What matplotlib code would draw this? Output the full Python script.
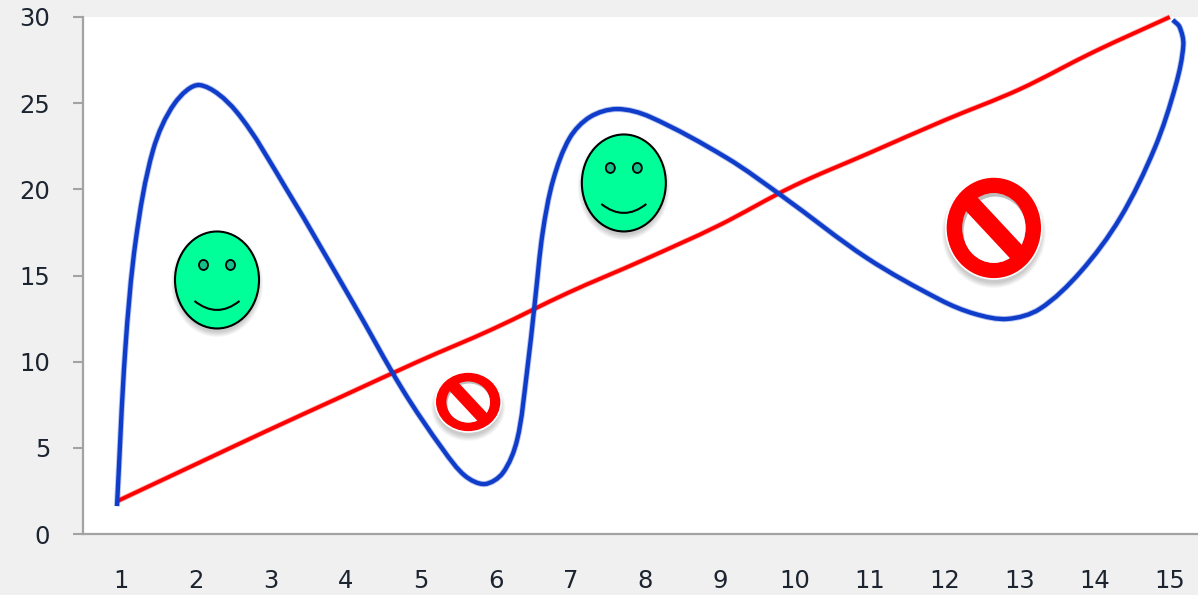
import numpy as np
import matplotlib
matplotlib.use('Agg')
import matplotlib.pyplot as plt
import matplotlib.patheffects as pe
from matplotlib.patches import Ellipse, PathPatch, Rectangle
from matplotlib.path import Path
from matplotlib.transforms import Affine2D

categories = list(range(1, 16))
red_values = [1.9, 3.95, 6.0, 8.0, 10.0, 11.9, 14.0, 15.9, 17.9, 20.2, 22.1, 24.0, 25.8, 28.0, 30.0]

# the blue curve doubles back at the end, so it is kept as x and y pairs
blue_x = [1.00, 1.11, 1.25, 1.48, 1.77, 2.10, 2.58, 3.26, 4.14, 4.80, 5.34, 5.63, 5.89, 6.13, 6.32,
          6.45, 6.56, 6.66, 6.80, 7.02, 7.29, 7.65, 8.09, 9.11, 9.86, 10.97, 11.95, 12.41, 12.84,
          13.27, 13.81, 14.34, 14.80, 15.08, 15.18, 15.13, 15.04]
blue_y = [1.62, 10.68, 17.06, 22.28, 25.01, 26.05, 24.55, 19.96, 13.40, 8.36, 4.87, 3.37, 2.90, 3.54, 5.45,
          9.34, 13.58, 17.47, 20.54, 22.98, 24.20, 24.66, 24.20, 21.82, 19.56, 16.02, 13.58, 12.77, 12.48,
          13.06, 15.20, 18.34, 22.40, 26.06, 28.38, 29.42, 29.83]

smiley_x = [2.33, 7.74]
smiley_y = [14.74, 20.37]
sign_x = [5.67, 12.66]
sign_y = [7.66, 17.76]
sign_rx = [33, 48]
sign_ry = [30, 51]

BG = '#f0f0f0'
AXIS = '#a3a3a3'
BLUE = '#0f3cc8'
RED = '#ff0000'
GREEN = '#00ff99'
TEXT = '#1c2430'

plt.rcParams['font.family'] = ['DejaVu Sans']

fig = plt.figure(figsize=(11.98, 5.95), dpi=100, facecolor=BG)
ax = fig.add_axes([83 / 1198, 61 / 595, 1115 / 1198, 517 / 595])
ax.set_xlim(0.548, 15.375)
ax.set_ylim(0, 30)


def smooth_path(x, y):
    # catmull-rom with chord length tangents, points are not evenly spaced
    pts = np.column_stack([x, y])
    px = ax.transData.transform(pts)
    d = np.hypot(*np.diff(px, axis=0).T)
    tang = np.zeros_like(pts)
    tang[0] = (pts[1] - pts[0]) / d[0]
    tang[-1] = (pts[-1] - pts[-2]) / d[-1]
    tang[1:-1] = (pts[2:] - pts[:-2]) / (d[:-1] + d[1:])[:, None]
    verts = [pts[0]]
    codes = [Path.MOVETO]
    for i in range(len(pts) - 1):
        verts += [pts[i] + tang[i] * d[i] / 3, pts[i + 1] - tang[i + 1] * d[i] / 3, pts[i + 1]]
        codes += [Path.CURVE4] * 3
    return Path(verts, codes)


soft_red = [pe.Stroke(linewidth=4.0, foreground=RED, alpha=0.3), pe.Normal()]
soft_blue = [pe.Stroke(linewidth=4.4, foreground=BLUE, alpha=0.3), pe.Normal()]

ax.add_patch(PathPatch(smooth_path(categories, red_values), fill=False, edgecolor=RED, lw=2.8,
                       clip_on=False, zorder=3, capstyle='butt', path_effects=soft_red))
ax.add_patch(PathPatch(smooth_path(blue_x, blue_y), fill=False, edgecolor=BLUE, lw=3.1,
                       clip_on=False, zorder=4, capstyle='butt', path_effects=soft_blue))

for side in ['top', 'right']:
    ax.spines[side].set_visible(False)
for side in ['left', 'bottom']:
    ax.spines[side].set_color(AXIS)
    ax.spines[side].set_linewidth(1.6)

ax.set_yticks(range(0, 31, 5))
ax.tick_params(axis='y', length=7.5, width=1.5, color=AXIS, labelsize=17.5, labelcolor=TEXT, pad=16)
# labels sit a little right of the points at the low end, as in the source
ax.set_xticks(np.linspace(1.053, 15, 15))
ax.set_xticklabels(categories)
ax.tick_params(axis='x', length=0, labelsize=17.5, labelcolor=TEXT, pad=25)


def shadow(t, rx, ry, dy):
    for k in range(6):
        ax.add_patch(Ellipse((0, dy), 2 * (rx + 4 - k), 2 * (ry + 4 - k), fc='black', ec='none',
                             alpha=0.035, transform=t, zorder=5))


def draw_smiley(cx, cy):
    t = Affine2D().translate(*ax.transData.transform((cx, cy)))
    shadow(t, 42, 49, -4)
    ax.add_patch(Ellipse((0, 0), 84, 97, fc=GREEN, ec='black', lw=1.5, transform=t, zorder=6))
    for ex in [-13.5, 13.5]:
        ax.add_patch(Ellipse((ex, 15), 9, 10, fc='#14c08a', ec='black', lw=1.3, transform=t, zorder=7))
    mouth = Path([(-22.5, -21), (0, -39), (22.5, -21)], [Path.MOVETO, Path.CURVE3, Path.CURVE3])
    ax.add_patch(PathPatch(mouth, fill=False, ec='black', lw=1.5, transform=t, zorder=7))


def draw_sign(cx, cy, rx, ry):
    t = Affine2D().translate(*ax.transData.transform((cx, cy)))
    shadow(t, rx, ry, -5)
    ax.add_patch(Ellipse((0, 0), 2 * rx, 2 * ry, fc=RED, ec='white', lw=1.2, transform=t, zorder=6))
    hole = Ellipse((0, 0), 1.32 * rx, 1.37 * ry, fc='#bdbdbd', ec='none', transform=t, zorder=7)
    ax.add_patch(hole)
    light = Ellipse((0.03 * rx, -0.07 * ry), 1.32 * rx, 1.37 * ry, fc='white', ec='none', transform=t, zorder=7.5)
    ax.add_patch(light)
    light.set_clip_path(hole)
    bar_t = Affine2D().rotate_deg(-47).translate(*ax.transData.transform((cx, cy)))
    bar = 0.37 * rx
    ax.add_patch(Rectangle((-0.85 * rx, -bar / 2), 1.7 * rx, bar, fc=RED, ec='none',
                           transform=bar_t, zorder=8))


for cx, cy in zip(smiley_x, smiley_y):
    draw_smiley(cx, cy)
for cx, cy, rx, ry in zip(sign_x, sign_y, sign_rx, sign_ry):
    draw_sign(cx, cy, rx, ry)

fig.savefig('out.png', dpi=100, facecolor=BG)
